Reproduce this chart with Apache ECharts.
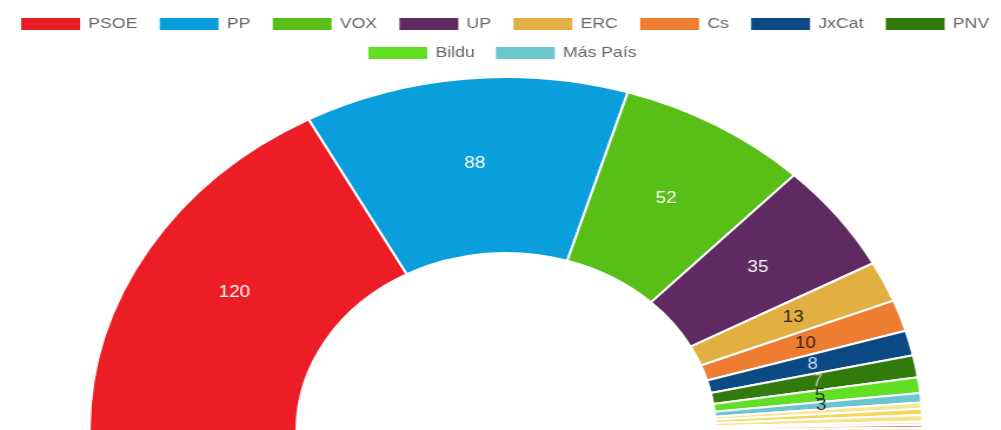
<!DOCTYPE html>
<html>
<head>
<meta charset="utf-8">
<script src="https://cdn.jsdelivr.net/npm/echarts@6/dist/echarts.min.js"></script>
<style>
    body { margin: 0; background: #fff; }
    /* the reference picture is stretched sideways, so the chart is drawn narrower and scaled */
    #report1 {
        width: 850px;
        height: 430px;
        transform: scaleX(1.177);
        transform-origin: 0 0;
    }
</style>
</head>
<body>
<div id="report1"></div>
<script>
// partidos de la leyenda
var parties = ['PSOE', 'PP', 'VOX', 'UP', 'ERC', 'Cs', 'JxCat', 'PNV', 'Bildu', 'Más País'];
var seats = [120, 88, 52, 35, 13, 10, 8, 7, 5, 3];
var colors = ['#ec1d24', '#0a9fdc', '#58bf16', '#5f2a62', '#e2b041', '#ee7d32', '#0b4a85', '#317b0c', '#62df22', '#6cc6cf'];
var labelColors = ['#ffffff', '#ffffff', '#ffffff', '#ffffff', '#2a2118', '#3a1a10', '#c6dcf2', '#b9c4b0', '#1f3a22', '#1f2f2a'];

// resto de escaños (sin leyenda)
var others = ['CUP', 'CC', 'NA+', 'BNG', 'PRC', 'TE'];
var otherSeats = [2, 2, 2, 1, 1, 1];
var otherColors = ['#f7e69a', '#f6d75c', '#f9e38a', '#f4eec4', '#e07a66', '#f7f0dc'];

var chartDom = document.getElementById('report1');
var myChart = echarts.init(chartDom);
var option;

var data = [];
parties.forEach(function (name, i) {
    data.push({
        name: name,
        value: seats[i],
        itemStyle: { color: colors[i] },
        label: { color: labelColors[i] }
    });
});
others.forEach(function (name, i) {
    data.push({
        name: name,
        value: otherSeats[i],
        itemStyle: { color: otherColors[i] },
        label: { show: false }
    });
});

var legendText = {
    color: '#666',
    fontSize: 15,
    fontFamily: 'Liberation Sans, Arial, sans-serif',
    padding: [0, 0, 0, 1]
};

option = {
    animation: false,
    legend: [
        {
            data: parties.slice(0, 8),
            left: 16,
            top: 16,
            padding: 0,
            itemWidth: 52,
            itemHeight: 14,
            itemGap: 17,
            icon: 'rect',
            textStyle: legendText
        },
        {
            data: parties.slice(8),
            left: 311,
            top: 45,
            padding: 0,
            itemWidth: 52,
            itemHeight: 14,
            itemGap: 16,
            icon: 'rect',
            textStyle: legendText
        }
    ],
    series: [
        {
            type: 'pie',
            center: [430, 431],
            radius: [178, 354],
            startAngle: 180,
            endAngle: 0,
            clockwise: true,
            avoidLabelOverlap: false,
            itemStyle: {
                borderColor: '#fff',
                borderWidth: 2
            },
            label: {
                show: true,
                position: 'inside',
                formatter: '{c}',
                fontSize: 16,
                fontFamily: 'Liberation Sans, Arial, sans-serif'
            },
            labelLayout: { hideOverlap: false },
            labelLine: { show: false },
            emphasis: { disabled: true },
            data: data
        }
    ]
};
option && myChart.setOption(option);
</script>
</body>
</html>
